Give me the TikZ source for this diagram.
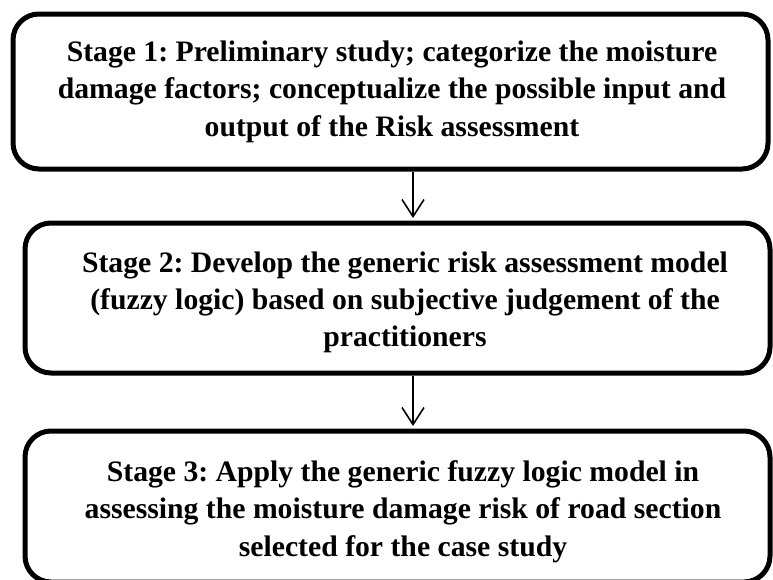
\documentclass[tikz,border=0pt]{standalone}
\usepackage{fontspec}
\setmainfont{Liberation Serif}
\usetikzlibrary{arrows.meta}

\tikzset{
  stagebox/.style={draw=black, line width=5pt, rounded corners=26pt,
    inner sep=0pt, fill=white},
  stagetext/.style={align=center, inner sep=0pt,
    font=\frenchspacing\fontsize{29.7}{37.3}\selectfont\bfseries},
  flow/.style={draw=black, line width=1.6pt,
    -{Straight Barb[length=17pt,width=22pt,line width=1.6pt]}},
}

\begin{document}
\begin{tikzpicture}[x=1pt,y=-1pt]
  \useasboundingbox (0,0) rectangle (773,579);

  % stage frames
  \node[stagebox, minimum width=755pt, minimum height=155pt] (b1) at (390.5,91.5) {};
  \node[stagebox, minimum width=745pt, minimum height=150pt] (b2) at (397.5,298) {};
  \node[stagebox, minimum width=745pt, minimum height=151pt] (b3) at (397.5,506.5) {};

  % stage descriptions
  \node[stagetext] (t1) at (392,91.6)
    {Stage 1: Preliminary study; categorize the moisture\\
     damage factors; conceptualize the possible input and\\
     output of the Risk assessment};
  \node[stagetext] (t2) at (405,302.5)
    {Stage 2: Develop the generic risk assessment model\\
     (fuzzy logic) based on subjective judgement of the\\
     practitioners};
  \node[stagetext] (t3) at (403,511.5)
    {Stage 3: Apply the generic fuzzy logic model in\\
     assessing the moisture damage risk of road section\\
     selected for the case study};

  % connectors between the stages
  \coordinate (axis) at (413,0);
  \draw[flow, shorten >=2.5pt] (b1.south -| axis) -- (b2.north -| axis);
  \draw[flow, shorten >=2.5pt] (b2.south -| axis) -- (b3.north -| axis);
\end{tikzpicture}
\end{document}
